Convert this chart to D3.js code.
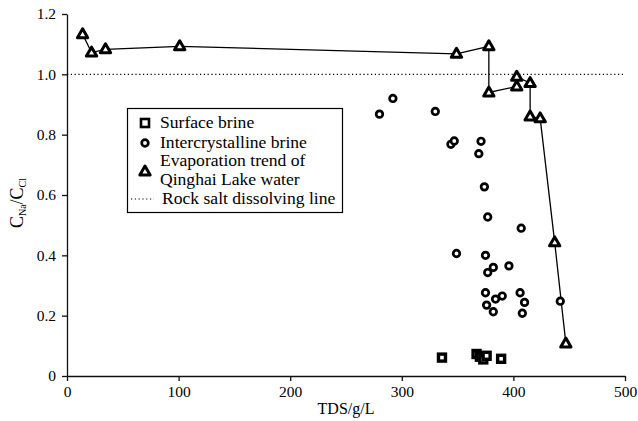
<!DOCTYPE html>
<html>
<head>
<meta charset="utf-8">
<script src="https://cdn.jsdelivr.net/npm/d3@7"></script>
<style>
  body { margin: 0; background: #fff; }
  svg text { font-family: "Liberation Serif", "Times New Roman", serif; fill: #000; }
  .axis path, .axis line { stroke: #111; stroke-width: 1.3; }
</style>
</head>
<body>
<script>
// surface brine (squares)
var surfTDS = [336, 367, 370, 373, 376, 389];
var surfRatio = [0.061, 0.073, 0.064, 0.055, 0.067, 0.057];

// intercrystalline brine (circles)
var interTDS = [280, 292, 330, 344, 347, 371, 369, 374, 377, 407, 349, 375, 396, 382, 377,
                375, 390, 406, 384, 410, 376, 382, 408, 442];
var interRatio = [0.868, 0.92, 0.877, 0.768, 0.779, 0.778, 0.737, 0.627, 0.527, 0.49, 0.406, 0.40, 0.365, 0.36, 0.343,
                  0.276, 0.265, 0.276, 0.255, 0.244, 0.235, 0.213, 0.208, 0.248];

// evaporation trend of Qinghai Lake water (triangles, joined in this order)
var evapTDS = [14, 22, 34.5, 101, 349, 378, 378, 403, 403, 415, 415, 424, 437, 447];
var evapRatio = [1.133, 1.072, 1.083, 1.093, 1.068, 1.093, 0.94, 0.96, 0.992, 0.971, 0.86, 0.854, 0.443, 0.108];

var xTicks = [0, 100, 200, 300, 400, 500];
var yTicks = [0, 0.2, 0.4, 0.6, 0.8, 1.0, 1.2];
var dissolveLine = 1.0;

var legendItems = ["Surface brine", "Intercrystalline brine", "Evaporation trend of", "Qinghai Lake water", "Rock salt dissolving line"];

var W = 638, H = 421;
var margin = {top: 14, right: 13, bottom: 45, left: 67};
var serif = "'Liberation Serif', 'Times New Roman', serif";

var x = d3.scaleLinear().domain([0, 500]).range([margin.left, W - margin.right]);
var y = d3.scaleLinear().domain([0, 1.2]).range([H - margin.bottom, margin.top]);

var svg = d3.select("body").append("svg")
    .attr("width", W)
    .attr("height", H);

// axes
var xAxis = svg.append("g")
    .attr("class", "axis")
    .attr("transform", "translate(0," + y(0) + ")")
    .call(d3.axisBottom(x).tickValues(xTicks).tickSize(5).tickSizeOuter(0).tickPadding(4));
xAxis.attr("font-family", serif).attr("font-size", 15.5);
xAxis.selectAll("text").attr("dy", "0.8em");

var yAxis = svg.append("g")
    .attr("class", "axis")
    .attr("transform", "translate(" + x(0) + ",0)")
    .call(d3.axisLeft(y).tickValues(yTicks).tickSize(5).tickSizeOuter(0).tickPadding(6)
        .tickFormat(function(d) { return d === 0 ? "0" : d3.format(".1f")(d); }));
yAxis.attr("font-family", serif).attr("font-size", 15.5);

// rock salt dissolving line
svg.append("line")
    .attr("x1", x(0)).attr("x2", x(500))
    .attr("y1", y(dissolveLine)).attr("y2", y(dissolveLine))
    .attr("stroke", "#000")
    .attr("stroke-width", 1.1)
    .attr("stroke-dasharray", "1.2,2.6");

// axis titles
svg.append("text")
    .attr("x", (x(0) + x(500)) / 2)
    .attr("y", 414)
    .attr("text-anchor", "middle")
    .style("font-size", "16px")
    .text("TDS/g/L");

var yl = svg.append("text")
    .attr("transform", "translate(23,203) rotate(-90)")
    .attr("text-anchor", "middle")
    .style("font-size", "18px");
yl.append("tspan").text("C");
yl.append("tspan").attr("dy", 3).style("font-size", "10px").text("Na");
yl.append("tspan").attr("dy", -3).text("/C");
yl.append("tspan").attr("dy", 3).style("font-size", "10px").text("Cl");

// evaporation trend line
var evap = evapTDS.map(function(d, i) { return [d, evapRatio[i]]; });
svg.append("path")
    .datum(evap)
    .attr("fill", "none")
    .attr("stroke", "#000")
    .attr("stroke-width", 1.3)
    .attr("d", d3.line().x(function(d) { return x(d[0]); }).y(function(d) { return y(d[1]); }));

var tri = d3.symbol().type(d3.symbolTriangle).size(46);

// circles
svg.append("g").selectAll("circle")
    .data(interTDS)
    .enter().append("circle")
    .attr("cx", function(d) { return x(d); })
    .attr("cy", function(d, i) { return y(interRatio[i]); })
    .attr("r", 3.3)
    .attr("fill", "#fff")
    .attr("stroke", "#000")
    .attr("stroke-width", 2.7);

// squares
svg.append("g").selectAll("rect")
    .data(surfTDS)
    .enter().append("rect")
    .attr("x", function(d) { return x(d) - 3.5; })
    .attr("y", function(d, i) { return y(surfRatio[i]) - 3.5; })
    .attr("width", 7)
    .attr("height", 7)
    .attr("fill", "#fff")
    .attr("stroke", "#000")
    .attr("stroke-width", 3.4);

// triangles
svg.append("g").selectAll("path")
    .data(evap)
    .enter().append("path")
    .attr("d", tri)
    .attr("transform", function(d) { return "translate(" + x(d[0]) + "," + (y(d[1]) + 0.5) + ")"; })
    .attr("fill", "#fff")
    .attr("stroke", "#000")
    .attr("stroke-width", 3)
    .attr("stroke-linejoin", "round");

// legend
var lg = svg.append("g");
lg.append("rect")
    .attr("x", 127.5).attr("y", 108.5)
    .attr("width", 215).attr("height", 104)
    .attr("fill", "#fff")
    .attr("stroke", "#000")
    .attr("stroke-width", 1.2);

lg.append("rect")
    .attr("x", 141).attr("y", 119)
    .attr("width", 8).attr("height", 8)
    .attr("fill", "#fff").attr("stroke", "#000").attr("stroke-width", 2.6);
lg.append("circle")
    .attr("cx", 145).attr("cy", 143).attr("r", 3.3)
    .attr("fill", "#fff").attr("stroke", "#000").attr("stroke-width", 2.7);
lg.append("path")
    .attr("d", tri)
    .attr("transform", "translate(145,172)")
    .attr("fill", "#fff").attr("stroke", "#000").attr("stroke-width", 3)
    .attr("stroke-linejoin", "round");
lg.append("line")
    .attr("x1", 131).attr("x2", 154)
    .attr("y1", 199).attr("y2", 199)
    .attr("stroke", "#000").attr("stroke-width", 1.1)
    .attr("stroke-dasharray", "1.2,2.6");

// reference face is a little wider than Times, stretch legend text a bit
var legendY = [128, 148, 166, 185, 204];
lg.selectAll("text")
    .data(legendItems)
    .enter().append("text")
    .attr("transform", function(d, i) {
        return "translate(" + (i == 4 ? 162 : 160) + "," + legendY[i] + ") scale(1.1,1)";
    })
    .style("font-size", "16px")
    .text(function(d) { return d; });
</script>
</body>
</html>
